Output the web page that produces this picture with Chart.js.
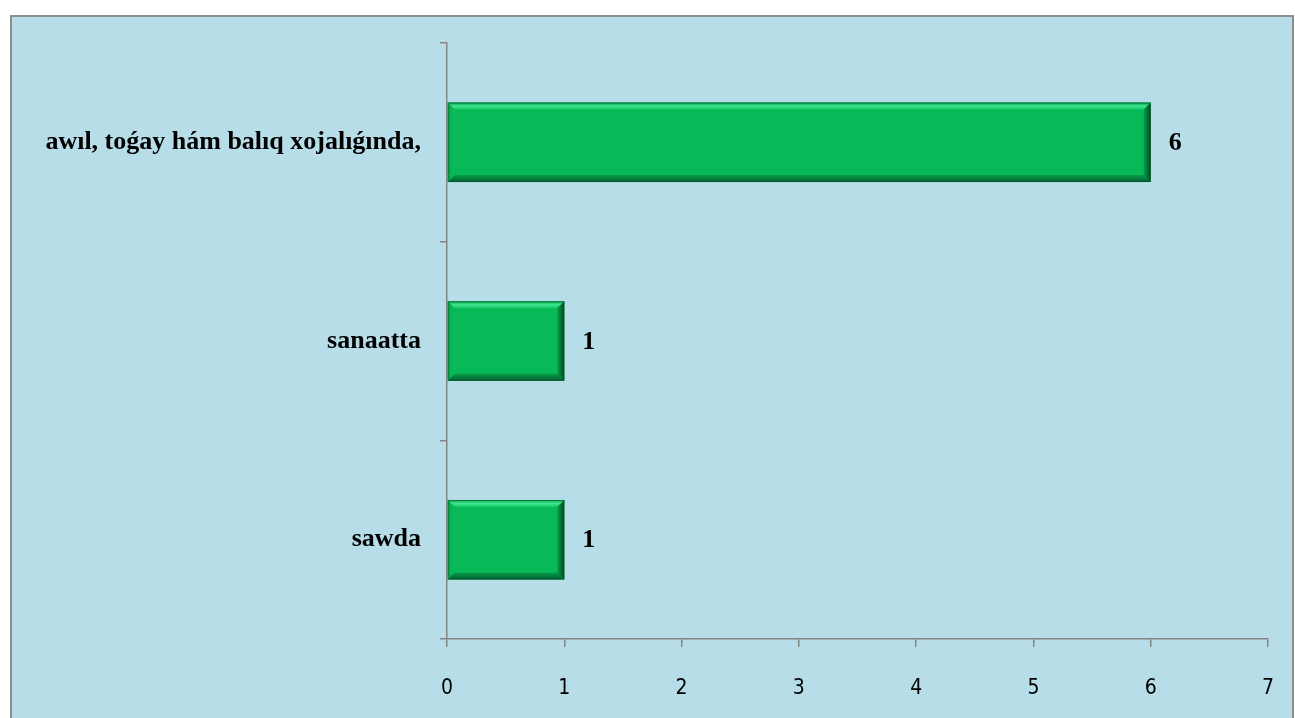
<!DOCTYPE html>
<html>
<head>
<meta charset="utf-8">
<script src="https://cdn.jsdelivr.net/npm/chart.js@4/dist/chart.umd.min.js"></script>
<style>
  html, body { margin: 0; padding: 0; background: #ffffff; overflow: hidden; }
  #frame {
    position: absolute; left: 10px; top: 15px;
    width: 1280px; height: 710px;
    background: #b7dde8;
    border: 2px solid #8e8e8e;
  }
  #chart { display: block; }
</style>
</head>
<body>
<div id="frame"><canvas id="chart" width="1280" height="701"></canvas></div>
<script>
// --- data ---
const categories = ["awıl, toǵay hám balıq xojalıǵında,", "sanaatta", "sawda"];
const values = [6, 1, 1];
const xTicks = [0, 1, 2, 3, 4, 5, 6, 7];

const AXIS = '#868686';
const SERIF = '"Liberation Serif", "Times New Roman", serif';

// bevelled "3D" look on each bar, like the office chart
const bevelBars = {
  id: 'bevelBars',
  afterDatasetsDraw(chart) {
    const ctx = chart.ctx;
    chart.getDatasetMeta(0).data.forEach(bar => {
      const l = Math.min(bar.base, bar.x), r = Math.max(bar.base, bar.x);
      const t = bar.y - bar.height / 2, b = bar.y + bar.height / 2;
      const w = 7;
      const poly = (pts, fill) => {
        ctx.beginPath();
        ctx.moveTo(pts[0][0], pts[0][1]);
        for (let i = 1; i < pts.length; i++) ctx.lineTo(pts[i][0], pts[i][1]);
        ctx.closePath();
        ctx.fillStyle = fill;
        ctx.fill();
      };
      ctx.save();
      const gTop = ctx.createLinearGradient(0, t, 0, t + w);
      gTop.addColorStop(0, '#07a24b');
      gTop.addColorStop(0.5, '#40e490');
      gTop.addColorStop(1, '#12c862');
      poly([[l, t], [r, t], [r - w, t + w], [l + w, t + w]], gTop);
      const gBot = ctx.createLinearGradient(0, b - w, 0, b);
      gBot.addColorStop(0, '#069c49');
      gBot.addColorStop(1, '#04612f');
      poly([[l, b], [r, b], [r - w, b - w], [l + w, b - w]], gBot);
      const gRight = ctx.createLinearGradient(r - w, 0, r, 0);
      gRight.addColorStop(0, '#079c4a');
      gRight.addColorStop(1, '#034a24');
      poly([[r, t], [r, b], [r - w, b - w], [r - w, t + w]], gRight);
      poly([[l, t], [l, b], [l + 3, b - 3], [l + 3, t + 3]], '#0aa850');
      ctx.strokeStyle = 'rgba(0,70,35,0.5)';
      ctx.lineWidth = 1;
      ctx.strokeRect(l + 0.5, t + 0.5, r - l - 1, b - t - 1);
      ctx.restore();
    });
  }
};

// value labels to the right of the bars
const valueLabels = {
  id: 'valueLabels',
  afterDatasetsDraw(chart) {
    const ctx = chart.ctx;
    ctx.save();
    ctx.font = 'bold 26px ' + SERIF;
    ctx.fillStyle = '#000';
    ctx.textAlign = 'left';
    ctx.textBaseline = 'middle';
    chart.getDatasetMeta(0).data.forEach((bar, i) => {
      ctx.fillText(String(values[i]), bar.x + 18, bar.y + 1);
    });
    ctx.restore();
  }
};

new Chart(document.getElementById('chart').getContext('2d'), {
  type: 'bar',
  data: {
    labels: categories,
    datasets: [{
      data: values,
      backgroundColor: '#07ba57',
      borderWidth: 0,
      barPercentage: 0.4,
      categoryPercentage: 1.0
    }]
  },
  options: {
    indexAxis: 'y',
    responsive: false,
    animation: false,
    layout: { padding: { top: 26, right: 24, left: 0, bottom: 0 } },
    plugins: {
      legend: { display: false },
      tooltip: { enabled: false }
    },
    scales: {
      x: {
        min: 0,
        max: 7,
        afterBuildTicks: s => { s.ticks = xTicks.map(v => ({ value: v })); },
        afterFit: s => { s.height = 79; s.paddingLeft = 0; s.paddingRight = 0; },
        border: { color: AXIS, width: 1.5 },
        grid: { drawOnChartArea: false, color: AXIS, tickLength: 8, lineWidth: 1.5 },
        ticks: {
          color: '#000',
          padding: 29,
          font: { family: '"Liberation Sans Narrow", "DejaVu Sans Condensed", Lato, sans-serif', size: 21 }
        }
      },
      y: {
        offset: true,
        afterFit: s => { s.width = 435; s.paddingTop = 0; s.paddingBottom = 0; },
        border: { color: AXIS, width: 1.5 },
        grid: { offset: true, drawOnChartArea: false, color: AXIS, tickLength: 7, lineWidth: 1.5 },
        ticks: {
          color: '#000',
          padding: 19,
          font: { family: SERIF, size: 26, weight: 'bold' }
        }
      }
    }
  },
  plugins: [bevelBars, valueLabels]
});
</script>
</body>
</html>
